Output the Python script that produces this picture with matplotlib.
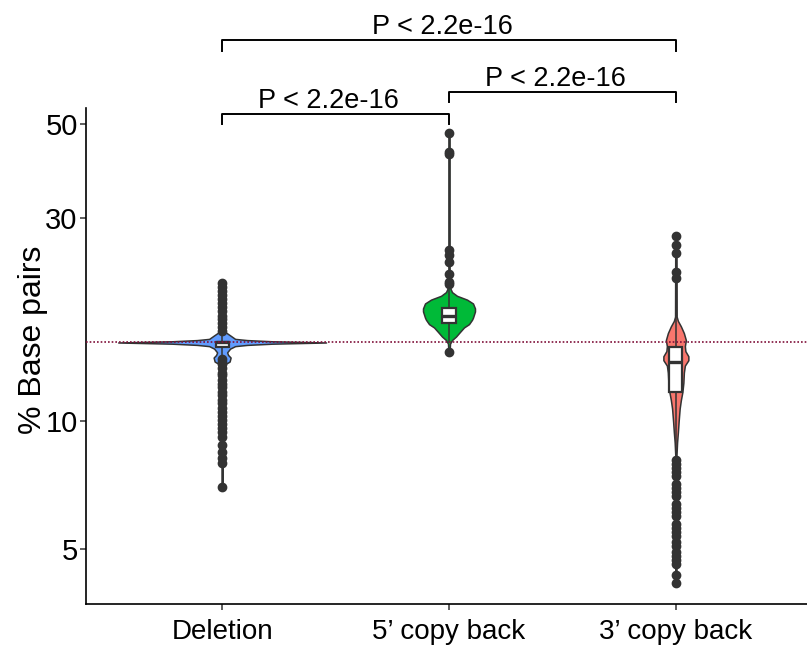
import numpy as np
import matplotlib
matplotlib.use("Agg")
import matplotlib.pyplot as plt
from matplotlib.ticker import FixedLocator, NullLocator

plt.rcParams['font.family'] = ['Liberation Sans', 'DejaVu Sans']

groups = ["Deletion", "5\u2019 copy back", "3\u2019 copy back"]
colors = ["#619CFF", "#00BA38", "#F8766D"]
ref_line = 15.3

# violin outlines: value, half density
del_vals = [7.0, 13.4, 13.6, 13.8, 14.1, 14.3, 14.5, 14.8, 15.0, 15.1, 15.2, 15.3,
            15.4, 15.5, 15.6, 15.9, 16.2, 16.6, 21.1]
del_dens = [0.6, 0.6, 3, 7.5, 8.5, 6, 5, 8, 13, 25, 50, 104,
            50, 25, 13, 8, 3, 1, 0.6]
five_vals = [14.5, 15.2, 15.5, 15.8, 16.2, 16.6, 16.9, 17.3, 17.5, 17.8, 18.1, 18.4,
             18.9, 19.3, 19.7, 20.1, 20.6, 21.0, 47.6]
five_dens = [0.6, 1, 3, 7, 11, 15, 20, 23, 24, 25, 26, 26,
             24, 18, 8, 3, 1, 0.6, 0.6]
three_vals = [4.16, 8.3, 8.9, 9.4, 10.0, 10.7, 11.2, 11.7, 12.3, 13.0, 13.5, 13.9,
              14.2, 14.6, 15.0, 15.5, 16.1, 16.7, 17.2, 17.6, 27.2]
three_dens = [0.6, 0.6, 1.2, 2, 2.8, 3.8, 5, 6.5, 7.5, 8, 9, 12.5,
              12.5, 9.5, 9, 10, 8, 5, 2, 0.8, 0.6]

# box statistics: q1, median, q3, whisker low, whisker high
del_box = [14.9, 15.3, 15.35, 14.1, 16.2]
five_box = [17.0, 17.7, 18.4, 15.3, 20.6]
three_box = [11.7, 13.8, 14.9, 8.3, 19.7]

# outliers
del_out = [21.1, 20.7, 20.2, 19.8, 19.4, 19.0, 18.5, 18.1, 17.7, 17.4, 17.0, 16.6, 16.3,
           14.0, 13.8, 13.6, 13.3, 13.0, 12.8, 12.5, 12.2, 12.0, 11.7, 11.5, 11.2, 11.0,
           10.7, 10.5, 10.3, 10.05, 9.84, 9.63, 9.42, 9.15, 8.8, 8.45, 8.2, 7.95, 7.0]
five_out = [47.6, 43.0, 42.5, 25.2, 24.6, 23.7, 22.2, 21.2, 21.0, 14.5]
three_out = [27.2, 26.0, 24.8, 22.4, 21.7,
             8.10, 7.92, 7.75, 7.59, 7.42, 7.11, 6.96, 6.81, 6.66, 6.38, 6.24, 6.11,
             5.98, 5.72, 5.60, 5.48, 5.36, 5.19, 5.08, 4.92, 4.81, 4.71, 4.61, 4.34, 4.16]

# significance brackets: left group, right group, bar height, tick end
brackets = [(1, 2, 52.8, 50.0), (2, 3, 59.4, 56.3), (1, 3, 78.8, 74.2)]
p_label = "P < 2.2e-16"

violins = [(del_vals, del_dens), (five_vals, five_dens), (three_vals, three_dens)]
boxes = [del_box, five_box, three_box]
outs = [del_out, five_out, three_out]

fig = plt.figure(figsize=(8.07, 6.45), dpi=100)
ax = fig.add_axes([86 / 807, 41 / 645, 726 / 807, 496 / 645])
ax.set_yscale('log')

dark = "#333333"
px_per_unit = 227.0
for i, (vals, dens) in enumerate(violins):
    pos = i + 1
    v = np.array(vals)
    d = np.array(dens) / px_per_unit
    ax.fill_betweenx(v, pos - d, pos + d, facecolor=colors[i], edgecolor=dark,
                     linewidth=1.1, zorder=2)

stats = []
for b, o in zip(boxes, outs):
    stats.append(dict(q1=b[0], med=b[1], q3=b[2], whislo=b[3], whishi=b[4], fliers=o))
ax.bxp(stats, positions=[1, 2, 3], widths=0.058, patch_artist=True, showcaps=False,
       boxprops=dict(facecolor='white', edgecolor=dark, linewidth=1.6),
       medianprops=dict(color=dark, linewidth=2.4),
       whiskerprops=dict(color=dark, linewidth=1.1),
       flierprops=dict(marker='o', markerfacecolor=dark, markeredgecolor=dark,
                       markersize=6),
       zorder=3, manage_ticks=False)

ax.axhline(ref_line, color='#80103A', linestyle=(0, (1, 1.2)), linewidth=1.2, zorder=4)

for x1, x2, yb, yt in brackets:
    ax.plot([x1, x1, x2, x2], [yt, yb, yb, yt], color='black', linewidth=1.4,
            clip_on=False, zorder=5)
    ax.annotate(p_label, xy=((x1 + x2) / 2 - 0.03, yb), xytext=(0, 4.5),
                textcoords='offset points', ha='center', va='baseline',
                fontsize=19.5, annotation_clip=False)

ax.set_xlim(0.4, 3.6)
ax.set_ylim(3.71, 54.5)
ax.yaxis.set_major_locator(FixedLocator([5, 10, 30, 50]))
ax.yaxis.set_minor_locator(NullLocator())
ax.set_yticklabels(["5", "10", "30", "50"])
ax.set_xticks([1, 2, 3])
ax.set_xticklabels(groups)
ax.tick_params(axis='both', color=dark, length=4, width=1.1)
ax.tick_params(axis='x', pad=7, labelsize=20)
ax.tick_params(axis='y', pad=2, labelsize=21)
ax.set_ylabel("% Base pairs", fontsize=23)
ax.yaxis.set_label_coords(-0.052, 0.532)
for s in ['top', 'right']:
    ax.spines[s].set_visible(False)
for s in ['left', 'bottom']:
    ax.spines[s].set_linewidth(1.2)
    ax.spines[s].set_color('black')

fig.savefig("out.png", dpi=100)
